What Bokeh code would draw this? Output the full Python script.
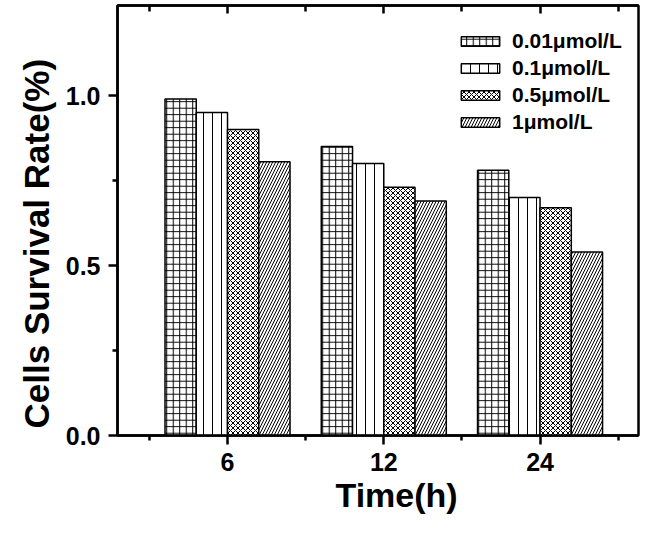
from bokeh.plotting import figure
from bokeh.models import (FixedTicker, LinearAxis, Legend, LegendItem, Range1d,
                          ColumnDataSource, PrintfTickFormatter, Title)
from bokeh.embed import file_html
from bokeh.resources import INLINE

# ---- data ----
categories = ["6", "12", "24"]
series_names = ["0.01\u03bcmol/L", "0.1\u03bcmol/L", "0.5\u03bcmol/L", "1\u03bcmol/L"]
v_001 = [0.99, 0.85, 0.78]
v_01 = [0.95, 0.80, 0.70]
v_05 = [0.90, 0.73, 0.67]
v_1 = [0.805, 0.69, 0.54]
y_ticks = [0.0, 0.5, 1.0]
y_minor = [0.25, 0.75]
x_title = "Time(h)"
y_title = "Cells Survival Rate(%)"

series_values = [v_001, v_01, v_05, v_1]
patterns = ["+", "|", "x", "/"]
scales = [6.5, 9, 5, 6]
offsets = [-0.3, -0.1, 0.1, 0.3]

FONT = "Liberation Sans"

p = figure(width=640, height=521, output_backend="svg", toolbar_location=None,
           x_range=Range1d(0.296, 3.63), y_range=Range1d(0, 1.265),
           min_border_left=117, min_border_right=2, min_border_top=5,
           min_border_bottom=86, x_axis_type=None, y_axis_type=None)
p.grid.visible = False
p.outline_line_color = "black"
p.outline_line_width = 2.5
p.background_fill_color = "white"

xpos = [i + 1 for i in range(len(categories))]

renderers = []
for vals, pat, sc, off in zip(series_values, patterns, scales, offsets):
    src = ColumnDataSource(dict(x=[x + off for x in xpos], top=vals))
    r = p.vbar(x="x", top="top", width=0.2, source=src, fill_color="white",
               line_color="black", line_width=1.5, hatch_pattern=pat,
               hatch_scale=sc, hatch_color="black", hatch_weight=1)
    renderers.append(r)

xticker = FixedTicker(ticks=xpos, minor_ticks=[0.5, 1.5, 2.5, 3.5])
yticker = FixedTicker(ticks=y_ticks, minor_ticks=y_minor)

xaxis = LinearAxis(ticker=xticker)
xaxis.major_label_overrides = {x: c for x, c in zip(xpos, categories)}
yaxis = LinearAxis(ticker=yticker, formatter=PrintfTickFormatter(format="%.1f"))
top_axis = LinearAxis(ticker=xticker, major_label_text_font_size="0px")
top_axis.major_label_text_alpha = 0

for ax in (xaxis, yaxis):
    ax.axis_line_width = 2.5
    ax.major_tick_line_width = 2.5
    ax.minor_tick_line_width = 2.5
    ax.major_tick_out = 9
    ax.major_tick_in = 0
    ax.minor_tick_out = 5
    ax.minor_tick_in = 0
    ax.major_label_text_font = FONT
    ax.major_label_text_font_style = "bold"
    ax.major_label_text_font_size = "25px"
    ax.major_label_text_color = "black"

xaxis.major_label_standoff = 8
yaxis.major_label_standoff = 8

top_axis.axis_line_width = 2.5
top_axis.major_tick_line_width = 2.5
top_axis.minor_tick_line_width = 2.5
top_axis.major_tick_in = 8
top_axis.major_tick_out = 0
top_axis.minor_tick_in = 6
top_axis.minor_tick_out = 0
top_axis.major_label_standoff = 0

p.add_layout(xaxis, "below")
p.add_layout(yaxis, "left")
p.add_layout(top_axis, "above")

xt = Title(text=x_title, align="left", offset=218, standoff=0,
           text_font=FONT, text_font_style="bold", text_font_size="34px",
           text_color="black")
yt = Title(text=y_title, align="left", offset=7, standoff=14,
           text_font=FONT, text_font_style="bold", text_font_size="35px",
           text_color="black")
p.add_layout(xt, "below")
p.add_layout(yt, "left")

items = [LegendItem(label=n, renderers=[r]) for n, r in zip(series_names, renderers)]
legend = Legend(items=items, location=(339, 301), padding=0, margin=0,
                spacing=3, glyph_width=48, glyph_height=12, label_height=12,
                label_standoff=8, border_line_color=None,
                background_fill_alpha=0,
                label_text_font=FONT, label_text_font_style="bold",
                label_text_font_size="21px", label_text_color="black")
p.add_layout(legend)

open("out.html", "w").write(file_html(p, INLINE))
